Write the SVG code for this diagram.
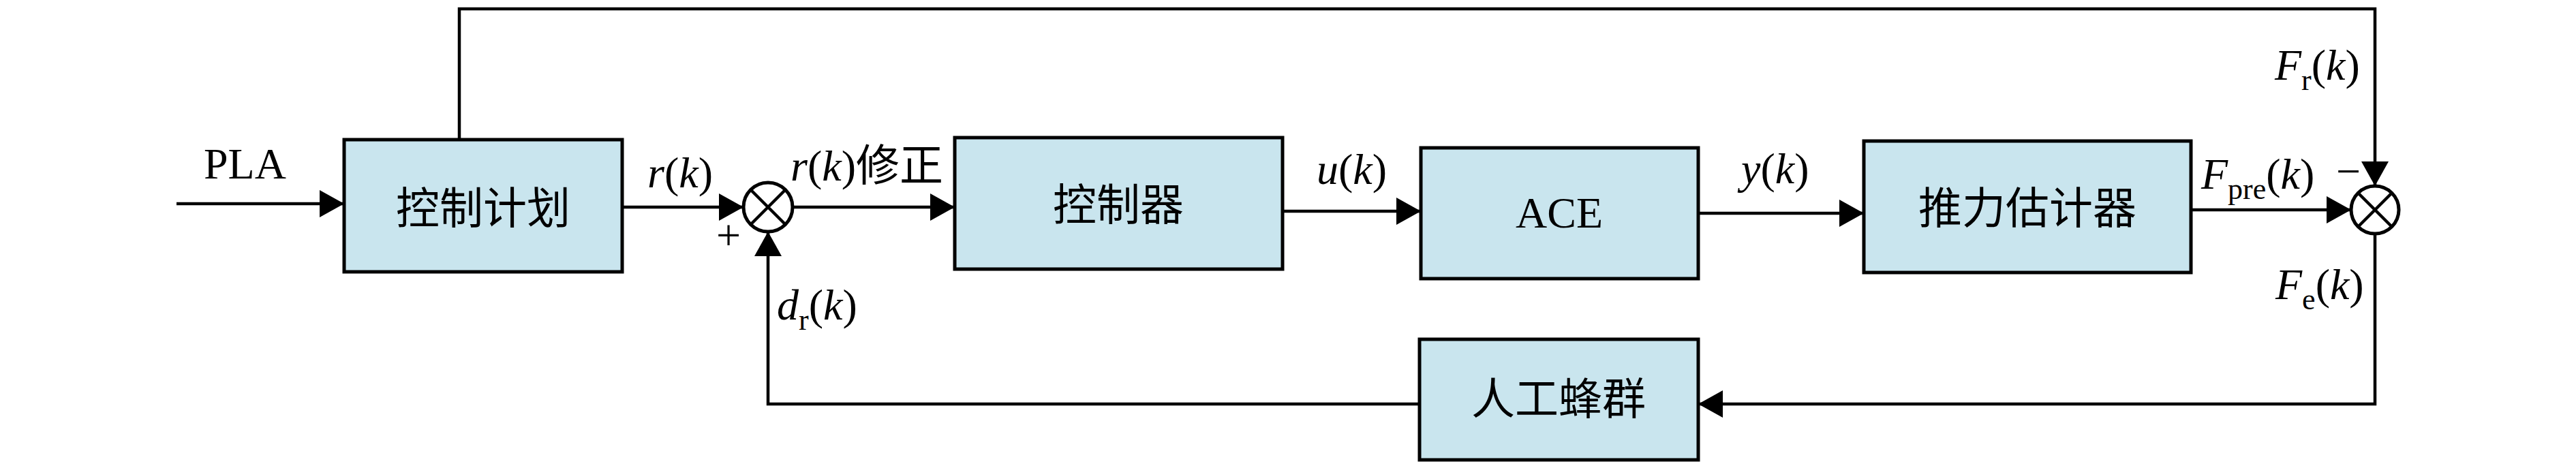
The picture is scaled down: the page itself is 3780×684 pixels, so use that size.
<svg xmlns="http://www.w3.org/2000/svg" width="3780" height="684" viewBox="0 0 3780 684">
<style>
.box{fill:#C9E5EE;stroke:#000;stroke-width:5}
.ln{fill:none;stroke:#000;stroke-width:4.5}
.arr{marker-end:url(#ah)}
.sum{fill:#fff;stroke:#000;stroke-width:5}
.cn{font-family:"Liberation Serif","Noto Sans CJK SC",serif;font-size:64px;text-anchor:middle;fill:#000}
.lb{font-family:"Liberation Serif","Noto Sans CJK SC",serif;font-size:64px;fill:#000}
.it{font-style:italic}
.sb{font-size:44px;font-style:normal}
</style>
<defs>
<marker id="ah" markerUnits="userSpaceOnUse" markerWidth="36" markerHeight="40" viewBox="0 0 36 40" refX="36" refY="20" orient="auto">
<path d="M0,0 L36,20 L0,40 z" fill="#000"/>
</marker>
</defs>
<rect width="3780" height="684" fill="#fff"/>
<g id="connectors">
<path class="ln arr" d="M259,299 L505,299"/>
<path class="ln arr" d="M913,304 L1091,304"/>
<path class="ln arr" d="M1163,304 L1401,304"/>
<path class="ln arr" d="M1882,310 L2085,310"/>
<path class="ln arr" d="M2492,313 L2735,313"/>
<path class="ln arr" d="M3215,308 L3450,308"/>
<path class="ln arr" d="M674,205 L674,13 L3485,13 L3485,273"/>
<path class="ln arr" d="M3485,343 L3485,593 L2492,593"/>
<path class="ln arr" d="M2083,593 L1127,593 L1127,340"/>
</g>
<g id="sum1">
<circle class="sum" cx="1127" cy="304" r="36"/>
<path class="ln" d="M1101.5,278.5 L1152.5,329.5 M1152.5,278.5 L1101.5,329.5"/>
</g>
<g id="sum2">
<circle class="sum" cx="3485" cy="308" r="35"/>
<path class="ln" d="M3460,283 L3510,333 M3510,283 L3460,333"/>
</g>
<g id="plan">
<rect class="box" x="505" y="205" width="408" height="194"/>
<text class="cn" x="709" y="328">控制计划</text>
</g>
<g id="controller">
<rect class="box" x="1401" y="202" width="481" height="193"/>
<text class="cn" x="1641" y="323">控制器</text>
</g>
<g id="ace">
<rect class="box" x="2085" y="217" width="407" height="192"/>
<text class="cn" x="2288" y="334">ACE</text>
</g>
<g id="estimator">
<rect class="box" x="2735" y="207" width="480" height="193"/>
<text class="cn" x="2975" y="328">推力估计器</text>
</g>
<g id="abc">
<rect class="box" x="2083" y="498" width="409" height="177"/>
<text class="cn" x="2287" y="608">人工蜂群</text>
</g>
<g id="labels">
<text class="lb" x="299" y="262">PLA</text>
<text class="lb" x="950" y="275"><tspan class="it">r</tspan>(<tspan class="it">k</tspan>)</text>
<text class="lb" x="1160" y="265"><tspan class="it">r</tspan>(<tspan class="it">k</tspan>)修正</text>
<text class="lb" x="1932" y="270"><tspan class="it">u</tspan>(<tspan class="it">k</tspan>)</text>
<text class="lb" x="2555" y="269"><tspan class="it">y</tspan>(<tspan class="it">k</tspan>)</text>
<text class="lb" x="3230" y="277"><tspan class="it">F</tspan><tspan class="sb" dy="15">pre</tspan><tspan dy="-15">(</tspan><tspan class="it">k</tspan>)</text>
<text class="lb" x="3338" y="117"><tspan class="it">F</tspan><tspan class="sb" dy="15">r</tspan><tspan dy="-15">(</tspan><tspan class="it">k</tspan>)</text>
<text class="lb" x="3339" y="439"><tspan class="it">F</tspan><tspan class="sb" dy="15">e</tspan><tspan dy="-15">(</tspan><tspan class="it">k</tspan>)</text>
<text class="lb" x="1140" y="469"><tspan class="it">d</tspan><tspan class="sb" dy="15">r</tspan><tspan dy="-15">(</tspan><tspan class="it">k</tspan>)</text>
<text class="lb" x="1051" y="367">+</text>
<text class="lb" x="3428" y="273">−</text>
</g>
</svg>
